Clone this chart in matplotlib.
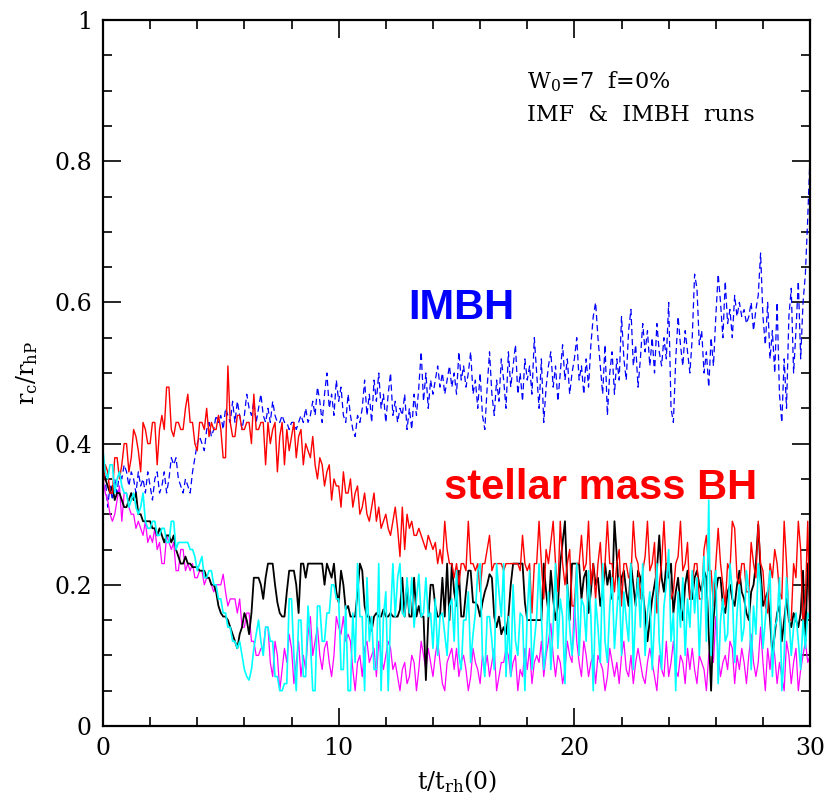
import numpy as np
import matplotlib
matplotlib.use("Agg")
import matplotlib.pyplot as plt
from matplotlib.ticker import MultipleLocator

plt.rcParams["font.family"] = ["DejaVu Serif"]
plt.rcParams["mathtext.fontset"] = "dejavuserif"

# Core radius over half-mass radius, one value every 0.1 t_rh(0) from t=0 to t=30
# (one row per unit of time, final value at t=30)
red_bh = [
    0.34, 0.37, 0.36, 0.33, 0.33, 0.38, 0.38, 0.35, 0.37, 0.40,
    0.40, 0.36, 0.38, 0.42, 0.41, 0.39, 0.36, 0.43, 0.42, 0.40,
    0.40, 0.43, 0.43, 0.37, 0.42, 0.44, 0.42, 0.48, 0.48, 0.42,
    0.41, 0.43, 0.43, 0.42, 0.42, 0.45, 0.47, 0.43, 0.43, 0.40,
    0.39, 0.43, 0.43, 0.42, 0.45, 0.41, 0.43, 0.42, 0.42, 0.44,
    0.42, 0.38, 0.38, 0.51, 0.43, 0.41, 0.41, 0.44, 0.44, 0.42,
    0.42, 0.43, 0.43, 0.40, 0.47, 0.42, 0.42, 0.43, 0.43, 0.37,
    0.43, 0.40, 0.42, 0.43, 0.36, 0.41, 0.43, 0.37, 0.42, 0.39,
    0.41, 0.43, 0.38, 0.41, 0.42, 0.37, 0.40, 0.39, 0.38, 0.41,
    0.37, 0.35, 0.38, 0.37, 0.34, 0.36, 0.37, 0.32, 0.35, 0.34,
    0.34, 0.31, 0.36, 0.33, 0.33, 0.35, 0.31, 0.33, 0.34, 0.30,
    0.31, 0.33, 0.30, 0.29, 0.31, 0.33, 0.29, 0.31, 0.28, 0.29,
    0.30, 0.28, 0.27, 0.29, 0.31, 0.28, 0.24, 0.31, 0.25, 0.30,
    0.28, 0.29, 0.27, 0.27, 0.28, 0.27, 0.26, 0.25, 0.27, 0.26,
    0.25, 0.26, 0.23, 0.25, 0.23, 0.29, 0.25, 0.23, 0.23, 0.21,
    0.23, 0.20, 0.23, 0.23, 0.22, 0.29, 0.23, 0.23, 0.22, 0.23,
    0.19, 0.23, 0.23, 0.25, 0.27, 0.22, 0.23, 0.23, 0.23, 0.23,
    0.22, 0.23, 0.23, 0.23, 0.23, 0.23, 0.23, 0.22, 0.27, 0.23,
    0.22, 0.23, 0.16, 0.23, 0.23, 0.29, 0.23, 0.18, 0.25, 0.23,
    0.26, 0.29, 0.23, 0.19, 0.29, 0.23, 0.20, 0.23, 0.25, 0.17,
    0.17, 0.23, 0.23, 0.27, 0.22, 0.23, 0.29, 0.20, 0.23, 0.18,
    0.23, 0.26, 0.20, 0.23, 0.29, 0.23, 0.23, 0.19, 0.23, 0.25,
    0.17, 0.23, 0.23, 0.21, 0.21, 0.29, 0.24, 0.23, 0.18, 0.22,
    0.24, 0.29, 0.22, 0.23, 0.26, 0.16, 0.20, 0.23, 0.29, 0.22,
    0.23, 0.18, 0.19, 0.23, 0.24, 0.29, 0.22, 0.23, 0.26, 0.18,
    0.20, 0.23, 0.23, 0.18, 0.18, 0.25, 0.27, 0.22, 0.22, 0.17,
    0.23, 0.28, 0.23, 0.20, 0.17, 0.23, 0.22, 0.29, 0.28, 0.21,
    0.20, 0.23, 0.23, 0.19, 0.19, 0.26, 0.23, 0.21, 0.29, 0.23,
    0.22, 0.17, 0.16, 0.23, 0.21, 0.25, 0.23, 0.19, 0.18, 0.29,
    0.23, 0.15, 0.15, 0.23, 0.21, 0.29, 0.25, 0.14, 0.18, 0.29,
    0.12,
]

blue_imbh = [
    0.37, 0.35, 0.31, 0.34, 0.32, 0.35, 0.33, 0.36, 0.35, 0.37,
    0.36, 0.34, 0.36, 0.35, 0.33, 0.36, 0.34, 0.35, 0.33, 0.36,
    0.34, 0.32, 0.35, 0.36, 0.33, 0.34, 0.36, 0.33, 0.35, 0.38,
    0.37, 0.38, 0.35, 0.34, 0.33, 0.35, 0.34, 0.33, 0.36, 0.38,
    0.40, 0.41, 0.40, 0.39, 0.42, 0.43, 0.41, 0.42, 0.44, 0.43,
    0.44, 0.42, 0.45, 0.44, 0.43, 0.46, 0.43, 0.46, 0.44, 0.42,
    0.44, 0.47, 0.45, 0.44, 0.46, 0.43, 0.45, 0.47, 0.44, 0.43,
    0.45, 0.43, 0.46, 0.44, 0.43, 0.43, 0.44, 0.43, 0.43, 0.42,
    0.43, 0.43, 0.42, 0.43, 0.44, 0.43, 0.45, 0.43, 0.44, 0.46,
    0.44, 0.48, 0.46, 0.43, 0.47, 0.50, 0.45, 0.47, 0.44, 0.49,
    0.46, 0.48, 0.44, 0.43, 0.47, 0.44, 0.42, 0.41, 0.44, 0.43,
    0.45, 0.49, 0.44, 0.47, 0.43, 0.49, 0.46, 0.50, 0.45, 0.47,
    0.43, 0.47, 0.50, 0.44, 0.46, 0.43, 0.45, 0.44, 0.47, 0.42,
    0.45, 0.42, 0.47, 0.44, 0.48, 0.53, 0.46, 0.50, 0.45, 0.49,
    0.47, 0.49, 0.51, 0.48, 0.50, 0.47, 0.49, 0.51, 0.48, 0.50,
    0.47, 0.53, 0.49, 0.51, 0.48, 0.50, 0.53, 0.47, 0.49, 0.45,
    0.50, 0.44, 0.42, 0.48, 0.53, 0.47, 0.44, 0.49, 0.46, 0.52,
    0.49, 0.45, 0.53, 0.48, 0.51, 0.54, 0.47, 0.50, 0.46, 0.52,
    0.49, 0.51, 0.47, 0.55, 0.50, 0.45, 0.52, 0.43, 0.48, 0.51,
    0.53, 0.48, 0.51, 0.46, 0.50, 0.54, 0.49, 0.52, 0.47, 0.50,
    0.52, 0.55, 0.49, 0.51, 0.47, 0.52, 0.48, 0.54, 0.58, 0.60,
    0.55, 0.51, 0.47, 0.54, 0.44, 0.50, 0.53, 0.47, 0.52, 0.49,
    0.58, 0.52, 0.49, 0.56, 0.59, 0.51, 0.54, 0.48, 0.52, 0.57,
    0.53, 0.56, 0.51, 0.55, 0.50, 0.57, 0.53, 0.51, 0.55, 0.52,
    0.60, 0.45, 0.43, 0.52, 0.58, 0.54, 0.51, 0.56, 0.53, 0.50,
    0.55, 0.64, 0.62, 0.54, 0.56, 0.50, 0.53, 0.48, 0.55, 0.51,
    0.58, 0.64, 0.60, 0.55, 0.63, 0.57, 0.59, 0.55, 0.61, 0.58,
    0.60, 0.58, 0.59, 0.57, 0.58, 0.60, 0.56, 0.59, 0.61, 0.67,
    0.58, 0.54, 0.60, 0.52, 0.56, 0.50, 0.60, 0.47, 0.43, 0.52,
    0.45, 0.58, 0.62, 0.50, 0.56, 0.63, 0.52, 0.60, 0.64, 0.72,
    0.81,
]

black_run = [
    0.36, 0.35, 0.34, 0.33, 0.34, 0.32, 0.33, 0.33, 0.32, 0.31,
    0.31, 0.32, 0.33, 0.32, 0.33, 0.30, 0.30, 0.29, 0.29, 0.29,
    0.29, 0.28, 0.28, 0.27, 0.28, 0.27, 0.26, 0.27, 0.27, 0.26,
    0.27, 0.25, 0.24, 0.23, 0.23, 0.24, 0.23, 0.23, 0.225, 0.225,
    0.225, 0.22, 0.22, 0.22, 0.21, 0.21, 0.20, 0.20, 0.19, 0.17,
    0.16, 0.155, 0.155, 0.15, 0.14, 0.13, 0.12, 0.11, 0.13, 0.14,
    0.16, 0.15, 0.13, 0.16, 0.21, 0.21, 0.21, 0.20, 0.18, 0.21,
    0.23, 0.23, 0.23, 0.20, 0.175, 0.16, 0.155, 0.155, 0.19, 0.22,
    0.22, 0.22, 0.20, 0.16, 0.23, 0.23, 0.21, 0.23, 0.23, 0.23,
    0.23, 0.23, 0.23, 0.23, 0.20, 0.23, 0.22, 0.21, 0.23, 0.19,
    0.175, 0.22, 0.20, 0.165, 0.17, 0.155, 0.155, 0.155, 0.19, 0.23,
    0.22, 0.17, 0.155, 0.155, 0.135, 0.155, 0.16, 0.155, 0.155, 0.165,
    0.155, 0.155, 0.16, 0.155, 0.155, 0.155, 0.165, 0.21, 0.155, 0.20,
    0.155, 0.155, 0.21, 0.155, 0.17, 0.155, 0.155, 0.065, 0.15, 0.20,
    0.20, 0.17, 0.155, 0.155, 0.21, 0.155, 0.23, 0.15, 0.23, 0.19,
    0.17, 0.22, 0.155, 0.155, 0.19, 0.22, 0.22, 0.175, 0.175, 0.17,
    0.155, 0.175, 0.19, 0.20, 0.215, 0.21, 0.155, 0.14, 0.155, 0.13,
    0.14, 0.13, 0.155, 0.20, 0.23, 0.23, 0.23, 0.23, 0.23, 0.175,
    0.15, 0.15, 0.15, 0.15, 0.15, 0.15, 0.15, 0.23, 0.19, 0.16,
    0.22, 0.18, 0.15, 0.17, 0.23, 0.26, 0.29, 0.20, 0.15, 0.23,
    0.23, 0.23, 0.23, 0.18, 0.21, 0.22, 0.16, 0.19, 0.23, 0.20,
    0.21, 0.17, 0.19, 0.23, 0.20, 0.22, 0.18, 0.29, 0.24, 0.18,
    0.21, 0.22, 0.19, 0.17, 0.23, 0.20, 0.17, 0.22, 0.21, 0.19,
    0.16, 0.12, 0.15, 0.18, 0.20, 0.22, 0.27, 0.21, 0.19, 0.23,
    0.21, 0.23, 0.16, 0.19, 0.21, 0.17, 0.15, 0.20, 0.22, 0.18,
    0.18, 0.21, 0.22, 0.20, 0.19, 0.22, 0.21, 0.13, 0.05, 0.15,
    0.19, 0.21, 0.21, 0.17, 0.16, 0.19, 0.20, 0.18, 0.17, 0.20,
    0.22, 0.19, 0.18, 0.16, 0.15, 0.19, 0.20, 0.23, 0.285, 0.22,
    0.17, 0.18, 0.19, 0.15, 0.10, 0.13, 0.16, 0.17, 0.12, 0.15,
    0.18, 0.15, 0.14, 0.16, 0.15, 0.14, 0.16, 0.22, 0.12, 0.23,
    0.17,
]

cyan_run = [
    0.39, 0.36, 0.35, 0.37, 0.37, 0.33, 0.35, 0.36, 0.34, 0.33,
    0.33, 0.31, 0.32, 0.33, 0.31, 0.30, 0.31, 0.33, 0.29, 0.28,
    0.28, 0.29, 0.29, 0.27, 0.27, 0.28, 0.28, 0.26, 0.26, 0.29,
    0.29, 0.25, 0.26, 0.26, 0.26, 0.26, 0.26, 0.25, 0.25, 0.24,
    0.22, 0.23, 0.24, 0.21, 0.21, 0.22, 0.22, 0.20, 0.20, 0.18,
    0.18, 0.16, 0.16, 0.14, 0.14, 0.12, 0.12, 0.11, 0.12, 0.10,
    0.08, 0.07, 0.065, 0.08, 0.11, 0.13, 0.15, 0.12, 0.10, 0.14,
    0.14, 0.12, 0.12, 0.07, 0.07, 0.05, 0.05, 0.06, 0.06, 0.18,
    0.18, 0.10, 0.05, 0.15, 0.15, 0.07, 0.07, 0.17, 0.12, 0.05,
    0.05, 0.17, 0.17, 0.12, 0.12, 0.16, 0.16, 0.20, 0.20, 0.18,
    0.18, 0.08, 0.08, 0.17, 0.05, 0.05, 0.16, 0.09, 0.23, 0.155,
    0.155, 0.05, 0.21, 0.12, 0.155, 0.08, 0.08, 0.23, 0.05, 0.155,
    0.19, 0.05, 0.155, 0.23, 0.155, 0.21, 0.23, 0.16, 0.155, 0.21,
    0.16, 0.21, 0.14, 0.18, 0.215, 0.155, 0.16, 0.21, 0.155, 0.16,
    0.11, 0.18, 0.10, 0.155, 0.16, 0.13, 0.10, 0.17, 0.18, 0.12,
    0.22, 0.10, 0.08, 0.15, 0.15, 0.19, 0.09, 0.13, 0.16, 0.22,
    0.23, 0.10, 0.07, 0.155, 0.155, 0.12, 0.08, 0.23, 0.19, 0.155,
    0.23, 0.07, 0.155, 0.07, 0.20, 0.12, 0.10, 0.16, 0.155, 0.05,
    0.16, 0.22, 0.08, 0.12, 0.155, 0.23, 0.155, 0.08, 0.11, 0.19,
    0.08, 0.14, 0.23, 0.11, 0.18, 0.155, 0.06, 0.20, 0.14, 0.10,
    0.14, 0.23, 0.10, 0.18, 0.17, 0.12, 0.22, 0.155, 0.05, 0.18,
    0.14, 0.09, 0.23, 0.12, 0.09, 0.17, 0.21, 0.11, 0.16, 0.21,
    0.10, 0.19, 0.15, 0.12, 0.23, 0.08, 0.17, 0.21, 0.14, 0.23,
    0.10, 0.16, 0.19, 0.08, 0.15, 0.23, 0.12, 0.08, 0.17, 0.20,
    0.25, 0.12, 0.16, 0.05, 0.19, 0.14, 0.21, 0.10, 0.18, 0.14,
    0.22, 0.16, 0.21, 0.10, 0.18, 0.24, 0.12, 0.32, 0.10, 0.20,
    0.22, 0.06, 0.15, 0.18, 0.12, 0.13, 0.23, 0.19, 0.09, 0.16,
    0.20, 0.12, 0.14, 0.22, 0.19, 0.08, 0.17, 0.13, 0.23, 0.20,
    0.11, 0.15, 0.19, 0.22, 0.07, 0.14, 0.15, 0.21, 0.05, 0.10,
    0.21, 0.16, 0.10, 0.14, 0.16, 0.12, 0.08, 0.15, 0.11, 0.16,
    0.15,
]

magenta_run = [
    0.35, 0.33, 0.32, 0.30, 0.29, 0.30, 0.32, 0.34, 0.29, 0.33,
    0.33, 0.31, 0.30, 0.30, 0.28, 0.29, 0.28, 0.27, 0.29, 0.26,
    0.27, 0.26, 0.28, 0.25, 0.26, 0.23, 0.23, 0.27, 0.26, 0.25,
    0.26, 0.22, 0.22, 0.25, 0.25, 0.22, 0.23, 0.22, 0.23, 0.21,
    0.21, 0.22, 0.22, 0.20, 0.21, 0.21, 0.20, 0.19, 0.20, 0.20,
    0.20, 0.215, 0.19, 0.17, 0.18, 0.18, 0.18, 0.16, 0.18, 0.14,
    0.14, 0.16, 0.16, 0.12, 0.12, 0.10, 0.10, 0.11, 0.11, 0.14,
    0.14, 0.09, 0.07, 0.12, 0.10, 0.05, 0.08, 0.11, 0.09, 0.13,
    0.11, 0.06, 0.09, 0.12, 0.07, 0.10, 0.08, 0.13, 0.155, 0.10,
    0.12, 0.14, 0.10, 0.08, 0.11, 0.12, 0.09, 0.07, 0.10, 0.155,
    0.14, 0.13, 0.155, 0.12, 0.13, 0.12, 0.08, 0.05, 0.09, 0.10,
    0.07, 0.11, 0.12, 0.09, 0.10, 0.11, 0.07, 0.12, 0.10, 0.08,
    0.10, 0.12, 0.11, 0.08, 0.09, 0.07, 0.05, 0.08, 0.09, 0.06,
    0.07, 0.10, 0.09, 0.05, 0.08, 0.12, 0.10, 0.08, 0.11, 0.09,
    0.07, 0.10, 0.12, 0.09, 0.06, 0.05, 0.09, 0.10, 0.11, 0.08,
    0.11, 0.07, 0.09, 0.10, 0.08, 0.05, 0.07, 0.11, 0.09, 0.08,
    0.06, 0.10, 0.08, 0.10, 0.07, 0.09, 0.11, 0.05, 0.07, 0.09,
    0.09, 0.11, 0.10, 0.07, 0.09, 0.10, 0.05, 0.08, 0.07, 0.11,
    0.08, 0.11, 0.06, 0.09, 0.10, 0.09, 0.12, 0.07, 0.10, 0.12,
    0.145, 0.10, 0.07, 0.10, 0.09, 0.06, 0.08, 0.12, 0.10, 0.09,
    0.18, 0.12, 0.09, 0.07, 0.12, 0.10, 0.07, 0.09, 0.10, 0.06,
    0.10, 0.09, 0.08, 0.05, 0.07, 0.11, 0.09, 0.07, 0.09, 0.06,
    0.10, 0.12, 0.08, 0.07, 0.10, 0.06, 0.09, 0.11, 0.09, 0.07,
    0.06, 0.09, 0.11, 0.09, 0.07, 0.05, 0.10, 0.08, 0.07, 0.12,
    0.07, 0.09, 0.12, 0.08, 0.07, 0.10, 0.09, 0.06, 0.11, 0.08,
    0.11, 0.08, 0.06, 0.10, 0.09, 0.08, 0.05, 0.10, 0.12, 0.09,
    0.155, 0.10, 0.07, 0.09, 0.10, 0.08, 0.12, 0.11, 0.06, 0.10,
    0.08, 0.11, 0.09, 0.06, 0.10, 0.13, 0.09, 0.07, 0.09, 0.14,
    0.09, 0.05, 0.11, 0.08, 0.12, 0.10, 0.06, 0.09, 0.07, 0.05,
    0.12, 0.10, 0.06, 0.09, 0.11, 0.05, 0.08, 0.10, 0.12, 0.09,
    0.10,
]

T_END = 30.0


def times(series):
    return np.linspace(0.0, T_END, len(series))


fig = plt.figure(figsize=(8.29, 8.08), dpi=100)
ax = fig.add_axes([0.1242, 0.1015, 0.853, 0.8737])

ax.plot(times(blue_imbh), blue_imbh, color="#0000ff", lw=0.9,
        linestyle=(0, (5, 3)))
ax.plot(times(magenta_run), magenta_run, color="#ff00ff", lw=0.9)
ax.plot(times(black_run), black_run, color="black", lw=1.3)
ax.plot(times(red_bh), red_bh, color="#ff0000", lw=1.0)
ax.plot(times(cyan_run), cyan_run, color="#00ffff", lw=1.2)

ax.set_xlim(0, 30)
ax.set_ylim(0, 1)
ax.xaxis.set_major_locator(MultipleLocator(10))
ax.xaxis.set_minor_locator(MultipleLocator(2))
ax.yaxis.set_major_locator(MultipleLocator(0.2))
ax.yaxis.set_minor_locator(MultipleLocator(0.05))
ax.yaxis.set_major_formatter(plt.FuncFormatter(
    lambda v, _: "0" if abs(v) < 1e-9 else ("1" if abs(v - 1) < 1e-9 else f"{v:.1f}")))
ax.tick_params(which="both", direction="in", top=True, right=True,
               labelsize=17, width=1.2)
ax.tick_params(which="major", length=13, pad=8)
ax.tick_params(which="minor", length=6.5)
for s in ax.spines.values():
    s.set_linewidth(1.6)

ax.set_xlabel(r"t/t$_{\rm rh}$(0)", fontsize=17, labelpad=6)
ax.set_ylabel(r"r$_{\rm c}$/r$_{\rm hP}$", fontsize=17, labelpad=10)

ax.text(18.0, 0.912, r"W$_0$=7  f=0%", fontsize=16, va="center", ha="left")
ax.text(18.0, 0.866, "IMF  &  IMBH  runs", fontsize=16, va="center", ha="left")

ax.text(15.2, 0.592, "IMBH", color="#0000ff", fontsize=30,
        fontweight="bold", family="Liberation Sans", ha="center", va="center")
ax.text(21.1, 0.337, "stellar mass BH", color="#ff0000", fontsize=30,
        fontweight="bold", family="Liberation Sans", ha="center", va="center")

fig.savefig("out.png", dpi=100)
